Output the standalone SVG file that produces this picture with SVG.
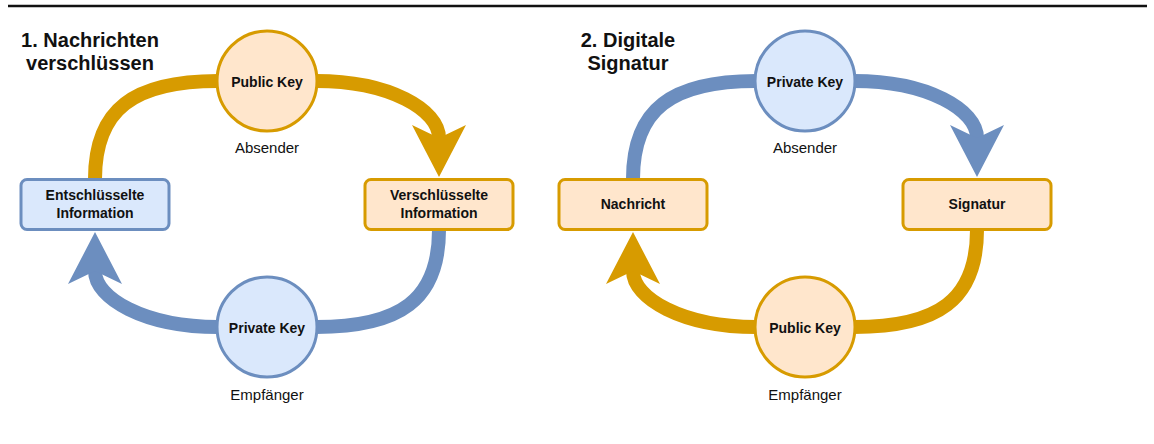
<svg xmlns="http://www.w3.org/2000/svg" width="1154" height="444" viewBox="0 0 1154 444">
<style>
text{font-family:"Liberation Sans",Arial,Helvetica,sans-serif;fill:#111;text-anchor:middle}
.title{font-size:20px;font-weight:bold}
.lbl{font-size:14px;font-weight:bold}
.sub{font-size:15px}
.or{fill:#ffe6cc;stroke:#d79b00;stroke-width:3}
.bl{fill:#dae8fc;stroke:#6c8ebf;stroke-width:3}
.co{fill:none;stroke:#d79b00;stroke-width:14}
.cb{fill:none;stroke:#6c8ebf;stroke-width:14}
</style>
<defs>
<marker id="ao" markerUnits="userSpaceOnUse" viewBox="-15 -30 56 60" refX="0" refY="0" markerWidth="56" markerHeight="60" orient="auto"><path d="M39,0 L-13,-27 L0,0 L-13,27 Z" fill="#d79b00"/></marker>
<marker id="ab" markerUnits="userSpaceOnUse" viewBox="-15 -30 56 60" refX="0" refY="0" markerWidth="56" markerHeight="60" orient="auto"><path d="M39,0 L-13,-27 L0,0 L-13,27 Z" fill="#6c8ebf"/></marker>
</defs>
<line x1="8" y1="6" x2="1147" y2="6" stroke="#111" stroke-width="2.5"/>

<g id="panel1">
<text class="title" x="90" y="47">1. Nachrichten</text>
<text class="title" x="90" y="70">verschlüssen</text>
<g id="connectors1">
<path class="co" d="M95,179 C95,109 134,81 218,81 L316,81 C390,81 439,110 439,138" marker-end="url(#ao)"/>
<path class="cb" d="M439,230 C439,300 400,327 316,327 L218,327 C144,327 95,298 95,271" marker-end="url(#ab)"/>
</g>
<g id="p1-public">
<circle class="or" cx="267" cy="81" r="50"/>
<text class="lbl" x="267" y="87">Public Key</text>
<text class="sub" x="267" y="153">Absender</text>
</g>
<g id="p1-private">
<circle class="bl" cx="267" cy="327" r="50"/>
<text class="lbl" x="267" y="333">Private Key</text>
<text class="sub" x="267" y="400">Empfänger</text>
</g>
<g id="p1-ent">
<rect class="bl" x="21" y="179.5" width="148" height="50" rx="6"/>
<text class="lbl" x="95" y="200">Entschlüsselte</text>
<text class="lbl" x="95" y="218">Information</text>
</g>
<g id="p1-ver">
<rect class="or" x="365" y="179.5" width="148" height="50" rx="6"/>
<text class="lbl" x="439" y="200">Verschlüsselte</text>
<text class="lbl" x="439" y="218">Information</text>
</g>
</g>

<g id="panel2" transform="translate(538,0)">
<text class="title" x="90" y="47">2. Digitale</text>
<text class="title" x="90" y="70">Signatur</text>
<g id="connectors2">
<path class="cb" d="M95,179 C95,109 134,81 218,81 L316,81 C390,81 439,110 439,138" marker-end="url(#ab)"/>
<path class="co" d="M439,230 C439,300 400,327 316,327 L218,327 C144,327 95,298 95,271" marker-end="url(#ao)"/>
</g>
<g id="p2-private">
<circle class="bl" cx="267" cy="81" r="50"/>
<text class="lbl" x="267" y="87">Private Key</text>
<text class="sub" x="267" y="153">Absender</text>
</g>
<g id="p2-public">
<circle class="or" cx="267" cy="327" r="50"/>
<text class="lbl" x="267" y="333">Public Key</text>
<text class="sub" x="267" y="400">Empfänger</text>
</g>
<g id="p2-nachricht">
<rect class="or" x="21" y="179.5" width="148" height="50" rx="6"/>
<text class="lbl" x="95" y="209">Nachricht</text>
</g>
<g id="p2-signatur">
<rect class="or" x="365" y="179.5" width="148" height="50" rx="6"/>
<text class="lbl" x="439" y="209">Signatur</text>
</g>
</g>
</svg>
